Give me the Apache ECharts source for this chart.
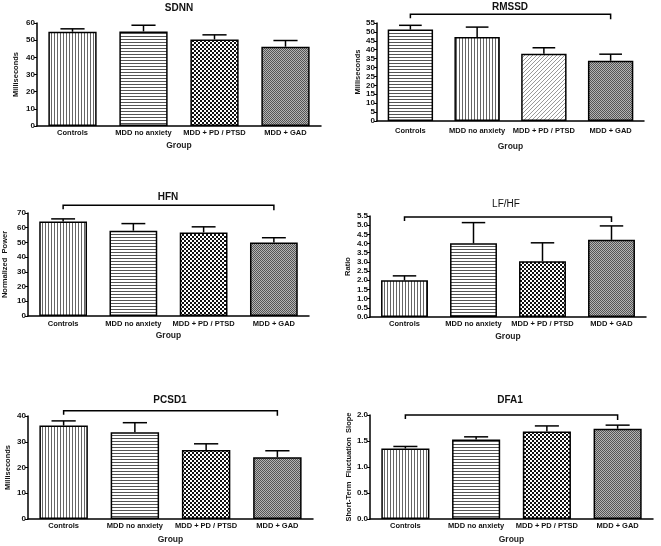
<!DOCTYPE html>
<html><head><meta charset="utf-8">
<script src="https://cdn.jsdelivr.net/npm/echarts@6/dist/echarts.min.js"></script>
<style>html,body{margin:0;padding:0;background:#fff}#c{width:661px;height:546px}</style>
</head><body><div id="c"></div>
<script>
// ---------- data ----------
const categories = ['Controls', 'MDD no anxiety', 'MDD + PD / PTSD', 'MDD + GAD'];

const sdnnMean  = [54.9, 55.1, 50.4, 46.2];
const sdnnSem   = [1.7, 3.6, 2.7, 3.6];
const rmssdMean = [51.3, 47.1, 37.7, 33.8];
const rmssdSem  = [2.4, 5.6, 3.4, 3.7];
const hfnMean   = [64.2, 58.0, 56.8, 50.0];
const hfnSem    = [1.8, 4.8, 3.8, 3.2];
const lfhfMean  = [2.0, 4.01, 3.04, 4.2];
const lfhfSem   = [0.24, 1.13, 1.0, 0.76];
const pcsdMean  = [36.3, 33.7, 26.8, 24.0];
const pcsdSem   = [1.8, 3.7, 2.4, 2.5];
const dfaMean   = [1.355, 1.53, 1.685, 1.735];
const dfaSem    = [0.04, 0.05, 0.105, 0.07];

const titles = ['SDNN', 'RMSSD', 'HFN', 'LF/HF', 'PCSD1', 'DFA1'];
const yNames = ['Milliseconds', 'Milliseconds', 'Normalized  Power', 'Ratio', 'Milliseconds', 'Short-Term  Fluctuation  Slope'];
const yMax = [60, 55, 70, 5.5, 40, 2.0];
const yStep = [10, 5, 10, 0.5, 10, 0.5];
const yDecimals = [0, 0, 0, 1, 0, 1];
const bracketLevel = [null, 59.9, 75.2, 5.45, 42.0, 2.0];
const patterns = [
  ['vline', 'hline', 'checker', 'fine'],
  ['hline', 'vline', 'diag', 'fine'],
  ['vline', 'hline', 'checker', 'fine'],
  ['vline', 'hline', 'checker', 'fine'],
  ['vline', 'hline', 'checker', 'fine'],
  ['vline', 'hline', 'checker', 'fine']
];
const means = [sdnnMean, rmssdMean, hfnMean, lfhfMean, pcsdMean, dfaMean];
const sems = [sdnnSem, rmssdSem, hfnSem, lfhfSem, pcsdSem, dfaSem];

// ---------- layout ----------
const grids = [
  {left: 37, top: 23, width: 284, height: 103},
  {left: 377, top: 23, width: 267, height: 98},
  {left: 28, top: 213, width: 281, height: 103},
  {left: 370, top: 216, width: 276, height: 101},
  {left: 28, top: 416, width: 285, height: 103},
  {left: 370, top: 415, width: 283, height: 104}
];
const nameGaps = [17, 15, 19, 18, 16, 13];
const groupGaps = [15, 21, 15, 15, 16, 16];
const labelMargins = [3, 6, 4, 3, 3, 3];
const titlePos = [[179, 3], [510, 2], [168, 192], [506, 199], [170, 395], [510, 395]];
const titleBold = [true, true, true, false, true, true];
const FONT = '"Liberation Sans", Arial, sans-serif';

function makePattern(type) {
  const c = document.createElement('canvas');
  const ctx = c.getContext('2d');
  if (type === 'vline') {
    c.width = 3; c.height = 3;
    ctx.fillStyle = '#fff'; ctx.fillRect(0, 0, 3, 3);
    ctx.fillStyle = '#666'; ctx.fillRect(0, 0, 1, 3);
  } else if (type === 'hline') {
    c.width = 3; c.height = 3;
    ctx.fillStyle = '#fff'; ctx.fillRect(0, 0, 3, 3);
    ctx.fillStyle = '#555'; ctx.fillRect(0, 0, 3, 1);
  } else if (type === 'checker') {
    c.width = 4; c.height = 4;
    ctx.fillStyle = '#fff'; ctx.fillRect(0, 0, 4, 4);
    ctx.fillStyle = '#111'; ctx.fillRect(0, 0, 2, 2); ctx.fillRect(2, 2, 2, 2);
  } else if (type === 'fine') {
    c.width = 2; c.height = 2;
    ctx.fillStyle = '#b4b4b4'; ctx.fillRect(0, 0, 2, 2);
    ctx.fillStyle = '#555'; ctx.fillRect(0, 0, 1, 1); ctx.fillRect(1, 1, 1, 1);
  } else if (type === 'diag') {
    c.width = 4; c.height = 4;
    ctx.fillStyle = '#fff'; ctx.fillRect(0, 0, 4, 4);
    ctx.fillStyle = '#999';
    for (let i = 0; i < 4; i++) ctx.fillRect(i, 3 - i, 1, 1);
  }
  return {image: c, repeat: 'repeat'};
}

const option = {
  animation: false,
  backgroundColor: '#fff',
  title: [], grid: [], xAxis: [], yAxis: [], series: []
};

for (let p = 0; p < 6; p++) {
  option.title.push({
    text: titles[p], left: titlePos[p][0], top: titlePos[p][1], textAlign: 'center', padding: 0,
    textStyle: {fontFamily: FONT, fontSize: 10, fontWeight: titleBold[p] ? 'bold' : 'normal', color: '#111'}
  });
  option.grid.push(Object.assign({containLabel: false}, grids[p]));
  option.xAxis.push({
    type: 'category', gridIndex: p, data: categories,
    name: 'Group', nameLocation: 'middle', nameGap: groupGaps[p],
    nameTextStyle: {fontFamily: FONT, fontSize: 8.5, fontWeight: 'bold', color: '#222'},
    axisLine: {lineStyle: {color: '#000', width: 1.5}},
    axisTick: {show: false},
    axisLabel: {fontFamily: FONT, fontSize: 7.5, fontWeight: 'bold', color: '#111', margin: labelMargins[p], interval: 0}
  });
  const dec = yDecimals[p];
  option.yAxis.push({
    type: 'value', gridIndex: p, min: 0, max: yMax[p], interval: yStep[p],
    name: yNames[p], nameLocation: 'middle', nameGap: nameGaps[p],
    nameTextStyle: {fontFamily: FONT, fontSize: 7.5, fontWeight: 'bold', color: '#111'},
    axisLine: {show: true, lineStyle: {color: '#000', width: 1.5}},
    axisTick: {show: true, length: 3, lineStyle: {color: '#000', width: 1}},
    splitLine: {show: false},
    axisLabel: {fontFamily: FONT, fontSize: 8, fontWeight: 'bold', color: '#111', margin: 2,
      formatter: v => v.toFixed(dec)}
  });
  option.series.push({
    type: 'bar', xAxisIndex: p, yAxisIndex: p, barWidth: '68%',
    data: means[p].map((v, i) => ({
      value: v,
      itemStyle: {color: makePattern(patterns[p][i]), borderColor: '#000', borderWidth: 1.5}
    })),
    z: 2
  });
  option.series.push({
    type: 'custom', xAxisIndex: p, yAxisIndex: p, z: 3,
    encode: {x: 0, y: 1},
    data: means[p].map((v, i) => [i, v, sems[p][i]]),
    renderItem: function (params, api) {
      const x = api.value(0), m = api.value(1), e = api.value(2);
      const p0 = api.coord([x, m]);
      const p1 = api.coord([x, m + e]);
      const half = api.size([1, 0])[0] * 0.17;
      const st = {stroke: '#000', lineWidth: 1.5, fill: null};
      return {type: 'group', children: [
        {type: 'line', shape: {x1: p0[0], y1: p0[1], x2: p1[0], y2: p1[1]}, style: st},
        {type: 'line', shape: {x1: p1[0] - half, y1: p1[1], x2: p1[0] + half, y2: p1[1]}, style: st}
      ]};
    }
  });
  if (bracketLevel[p] !== null) {
    option.series.push({
      type: 'custom', xAxisIndex: p, yAxisIndex: p, z: 3, clip: false,
      encode: {x: 0, y: 1},
      data: [[0, bracketLevel[p], 3]],
      renderItem: function (params, api) {
        const lv = api.value(1);
        const a = api.coord([api.value(0), lv]);
        const b = api.coord([api.value(2), lv]);
        return {type: 'polyline', shape: {points: [[a[0], a[1] + 4], [a[0], a[1]], [b[0], b[1]], [b[0], b[1] + 5]]},
          style: {stroke: '#000', lineWidth: 1.5, fill: null}};
      }
    });
  }
}

const chart = echarts.init(document.getElementById('c'), null, {renderer: 'canvas'});
chart.setOption(option);
</script>
</body></html>
